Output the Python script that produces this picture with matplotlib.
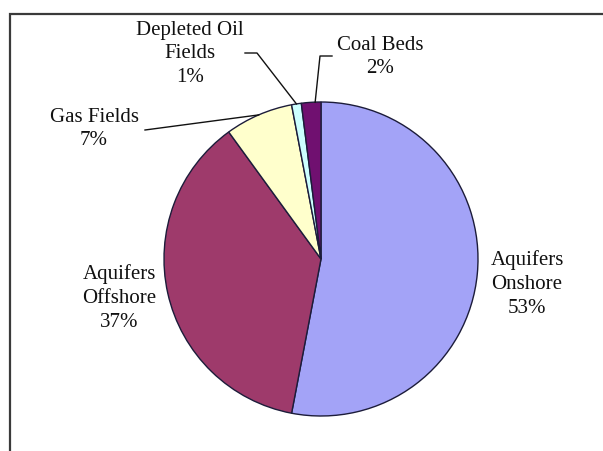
import numpy as np
import matplotlib
matplotlib.use("Agg")
import matplotlib.pyplot as plt
from matplotlib.patches import Rectangle

categories = ["Aquifers\nOnshore", "Aquifers\nOffshore", "Gas Fields", "Depleted Oil\nFields", "Coal Beds"]
values = [53, 37, 7, 1, 2]
colors = ["#A3A3F7", "#9E3A6B", "#FFFFCC", "#CCFFFF", "#701070"]

W, H = 603, 451
fig = plt.figure(figsize=(W / 100, H / 100), dpi=100)
ax = fig.add_axes([0, 0, 1, 1])

def Y(y):
    return H - y

cx, cy, r = 321, Y(259), 157
wedges, _ = ax.pie(values, colors=colors, startangle=90, counterclock=False,
                   center=(cx, cy), radius=r, frame=True,
                   wedgeprops=dict(edgecolor="#1c1c3a", linewidth=1.0))
ax.set_xlim(0, W)
ax.set_ylim(0, H)
ax.set_aspect("equal")
ax.axis("off")

# frame
ax.add_patch(Rectangle((10, -20), 700, Y(14) + 20, fill=False, edgecolor="#3a3a3a", linewidth=1.6))

font = dict(family=["Liberation Serif", "DejaVu Serif"], fontsize=15, color="#111111",
            ha="center", va="center", multialignment="center", linespacing=1.33)

label_pos = [(527, 284), (119, 298), (94, 129), (190, 54), (380, 57)]
for cat, v, (lx, ly) in zip(categories, values, label_pos):
    ax.text(lx, Y(ly), f"{cat}\n{v}%", **font)

# leader lines to wedge midpoints
def mid(w):
    a = np.deg2rad((w.theta1 + w.theta2) / 2)
    return cx + r * np.cos(a), cy + r * np.sin(a)

lc = dict(color="#111111", linewidth=1.0)
gx, gy = mid(wedges[2])
ax.plot([145, gx], [Y(130), gy], **lc)
dx, dy = mid(wedges[3])
ax.plot([245, 257, dx], [Y(53), Y(53), dy], **lc)
kx, ky = mid(wedges[4])
ax.plot([332, 320, kx + 4], [Y(56), Y(56), ky], **lc)

fig.savefig("out.png", dpi=100)
